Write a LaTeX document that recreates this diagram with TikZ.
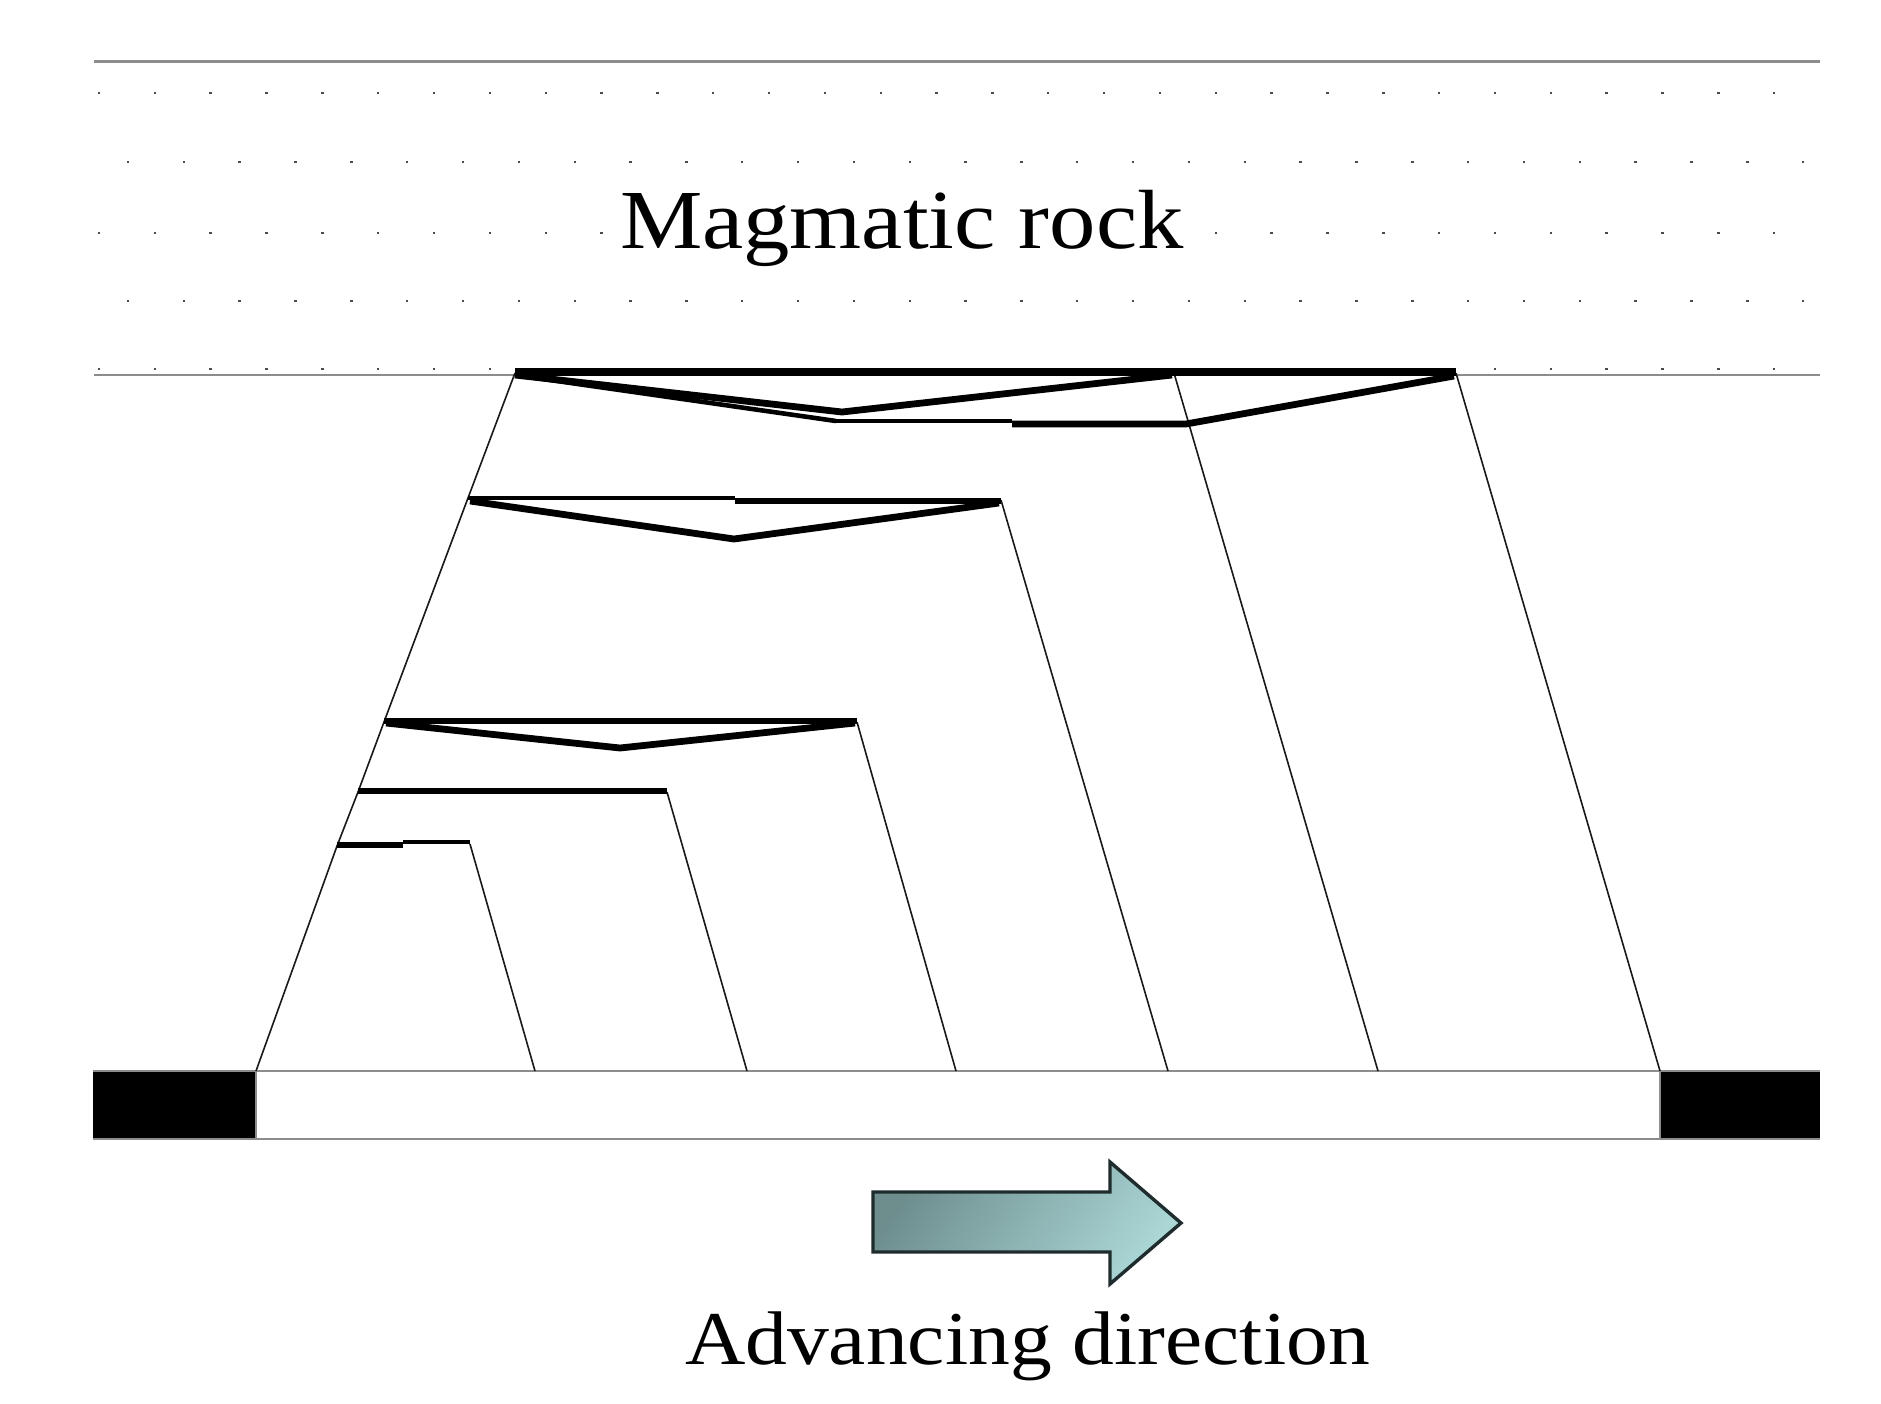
\documentclass[tikz,border=0pt]{standalone}
\usepackage{fontspec}
\setmainfont{Liberation Serif}
\usetikzlibrary{calc}
\definecolor{rulegrey}{gray}{0.55}
\definecolor{arrowedge}{HTML}{1F2C2D}
\definecolor{arrowdark}{HTML}{6E8E8E}
\definecolor{arrowmid}{HTML}{9DC3C3}
\definecolor{arrowlight}{HTML}{ABD6D6}
\tikzset{
  px/.style={x=0.5pt,y=-0.5pt},
  rule/.style={draw=rulegrey,line width=1.1pt},
  fault/.style={draw=black!90,line width=0.8pt},
  seam/.style={draw=black,line width=3.4pt,line join=miter,line cap=butt},
  seamthin/.style={draw=black,line width=2.3pt,line join=miter,line cap=butt},
  label/.style={anchor=base west,inner sep=0pt,outer sep=0pt,text=black},
  dotmark/.style={fill=black!70}
}
\begin{document}
\begin{tikzpicture}[px]
\useasboundingbox (0,0) rectangle (1881,1404);
\fill[white] (0,0) rectangle (1881,1404);
% stipple
\foreach \yy/\off/\ga/\gb in {93/99/2000/2000,162/128/2000/2000,233/99/610/1210,301/128/2000/2000,369/99/500/1480}{
  \foreach \k in {0,...,31}{
    \pgfmathsetmacro{\xx}{\off+55.84*\k}
    \pgfmathtruncatemacro{\keep}{(\xx<1820)&&(\xx<\ga||\xx>\gb)?1:0}
    \ifnum\keep=1 \fill[dotmark] (\xx-1.2,\yy-1.2) rectangle (\xx+1.2,\yy+1.2);\fi
  }
}
% named points
\coordinate (rl1) at (94,61.5); \coordinate (rr1) at (1820,61.5);
\coordinate (rl2) at (94,375); \coordinate (rr2) at (1820,375);
\coordinate (bl) at (93,1071); \coordinate (br) at (1820,1139);
\coordinate (b0) at (256,1071); \coordinate (b1) at (535,1071); \coordinate (b2) at (747,1071);
\coordinate (b3) at (956,1071); \coordinate (b4) at (1168,1071); \coordinate (b5) at (1378,1071);
\coordinate (b6) at (1660,1071);
\coordinate (a1) at (515,373); \coordinate (a2) at (1174,373); \coordinate (a3) at (1456,373);
\coordinate (s1l) at (468,498); \coordinate (s1r) at (1001,500);
\coordinate (s2l) at (384,722); \coordinate (s2r) at (857,722);
\coordinate (s3l) at (358,792); \coordinate (s3r) at (667,792);
\coordinate (s4l) at (337,846); \coordinate (s4r) at (470,844);
% rules
\draw[rule] (rl1) -- (rr1);
\draw[rule] (rl2) -- (rr2);
% base strip
\fill[black] (bl) rectangle (b6 |- br);
\fill[white] (b0 |- bl) rectangle (b6 |- br);
\fill[black] (b6) rectangle (br);
\draw[rule,line width=0.9pt] (bl) -- (bl -| br);
\draw[rule,line width=0.9pt] (bl |- br) -- (br);
\draw[rule,line width=0.9pt] (b0) -- (b0 |- br);
\draw[rule,line width=0.9pt] (b6) -- (b6 |- br);
% faults
\draw[fault] (b0) -- (s4l) -- (s3l) -- (s2l) -- (s1l) -- (a1);
\draw[fault] (b6) -- (a3);
\draw[fault] (b5) -- (a2);
\draw[fault] (b4) -- (s1r);
\draw[fault] (b3) -- (s2r);
\draw[fault] (b2) -- (s3r);
\draw[fault] (b1) -- (s4r);
% seam 1
\draw[seam,line width=3.8pt] (515,372) -- (1456,372);
\draw[seam,miter limit=10] (515,375) -- (842,412) -- (1172,375);
\draw[seamthin,miter limit=10] (515,375) -- (836,421);
\draw[seamthin] (836,421) -- (1012,421);
\draw[seam] (1012,424) -- (1186,424) -- (1454,376);
% seam 2
\draw[seamthin] (468,498) -- (735,498);
\draw[seam] (735,501) -- (1001,501);
\draw[seam,miter limit=10] (470,501) -- (734,539) -- (999,503);
% seam 3
\draw[seam] (384,721) -- (857,721);
\draw[seam,miter limit=10] (386,723) -- (620,748) -- (855,723);
% seam 4
\draw[seam] (358,791) -- (667,791);
% seam 5
\draw[seam] (337,845) -- (403,845);
\draw[seamthin] (403,842) -- (470,842);
% arrow
\draw[draw=arrowedge,line width=1.7pt,line join=miter,miter limit=10,
      top color=arrowdark,middle color=arrowmid,bottom color=arrowlight,shading angle=55]
  (873,1192) -- (1110,1192) -- (1110,1162) -- (1181,1223) -- (1110,1284)
  -- (1110,1252) -- (873,1252) -- cycle;
% text
\node[label,font=\fontsize{42}{48}\selectfont,xscale=1.103] (magma) at (620,248) {Magmatic rock};
\node[label,font=\fontsize{38}{44}\selectfont,xscale=1.10] (adv) at (685,1364) {Advancing direction};
\end{tikzpicture}
\end{document}
